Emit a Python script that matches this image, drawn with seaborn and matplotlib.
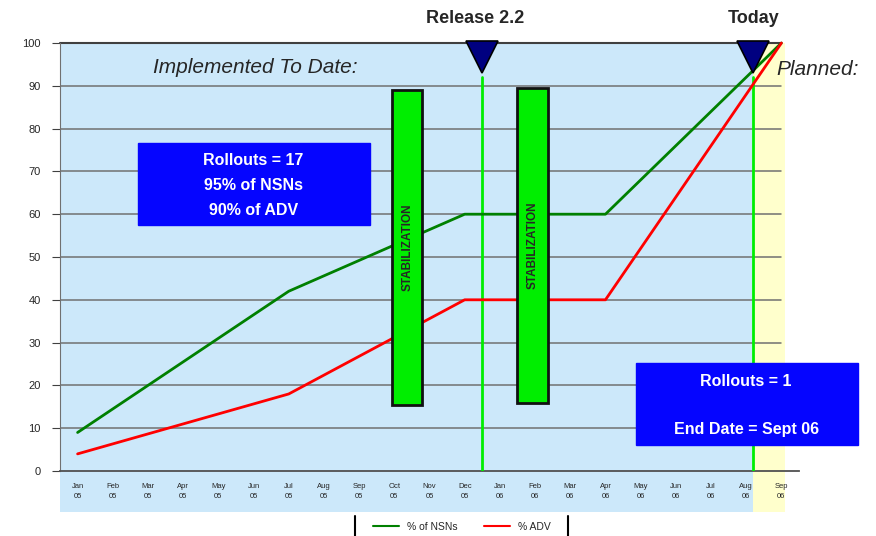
import matplotlib
matplotlib.use("Agg")
import matplotlib.pyplot as plt
from matplotlib.patches import Rectangle
from matplotlib.lines import Line2D
import seaborn as sns
import pandas as pd

# month categories on the x axis
months = ["Jan\n05", "Feb\n05", "Mar\n05", "Apr\n05", "May\n05", "Jun\n05", "Jul\n05",
          "Aug\n05", "Sep\n05", "Oct\n05", "Nov\n05", "Dec\n05", "Jan\n06", "Feb\n06",
          "Mar\n06", "Apr\n06", "May\n06", "Jun\n06", "Jul\n06", "Aug\n06", "Sep\n06"]

# series vertices (month, value)
point_months = ["Jan\n05", "Jul\n05", "Dec\n05", "Apr\n06", "Sep\n06"]
pct_nsns = [9, 42, 60, 60, 100]
pct_adv = [4, 18, 40, 40, 100]

y_ticks = [0, 10, 20, 30, 40, 50, 60, 70, 80, 90, 100]

release_pos = 11.5
today_pos = 19.2

sns.set_style("white")
plt.rcParams['font.family'] = ['Liberation Sans', 'DejaVu Sans']

idx = [months.index(m) for m in point_months]
df = pd.DataFrame({
    "x": idx * 2,
    "valor": pct_nsns + pct_adv,
    "serie": ["% of NSNs"] * len(idx) + ["% ADV"] * len(idx),
})

fig = plt.figure(figsize=(8.76, 5.36), dpi=100)
ax = fig.add_axes([60 / 876, 1 - 471 / 536, 739 / 876, 428 / 536])
ax.set_facecolor("white")

# fondos: implementado (azul) y planeado (amarillo)
ax.add_patch(Rectangle((-0.5, -9.6), today_pos + 0.5, 109.6, color="#cce8fa",
                       zorder=0, clip_on=False, lw=0))
ax.add_patch(Rectangle((today_pos, -9.6), 0.9, 109.6, color="#ffffcc",
                       zorder=0, clip_on=False, lw=0))

for y in y_ticks[1:-1]:
    ax.plot([-0.5, 20.0], [y, y], color="#707070", lw=1.1, zorder=1)
ax.plot([-0.5, 20.0], [100, 100], color="#404040", lw=1.5, zorder=1, clip_on=False)

sns.lineplot(data=df, x="x", y="valor", hue="serie",
             palette={"% of NSNs": "#008000", "% ADV": "#ff0000"},
             lw=2, legend=False, ax=ax, zorder=4, clip_on=False)

# barras de estabilizacion
for x0, x1, y0, y1 in [(8.93, 9.80, 15.4, 89.0), (12.48, 13.36, 15.9, 89.5)]:
    ax.add_patch(Rectangle((x0, y0), x1 - x0, y1 - y0, facecolor="#00ee00",
                           edgecolor="#111111", lw=2, zorder=5))
    ax.text((x0 + x1) / 2, (y0 + y1) / 2, "STABILIZATION", rotation=90,
            ha="center", va="center", fontsize=8.5, fontweight="bold", zorder=6)

# lineas de release y hoy
ax.plot([release_pos, release_pos], [0, 92], color="#00ee00", lw=2, zorder=3)
ax.plot([today_pos, today_pos], [0, 92], color="#00ee00", lw=2, zorder=3)
for xp, xl, label in [(release_pos, 11.3, "Release 2.2"), (today_pos, 19.2, "Today")]:
    ax.plot([xp], [96.8], marker="v", ms=23, color="#000080",
            markeredgecolor="black", mew=1.2, zorder=7, clip_on=False)
    ax.text(xl, 105.8, label, ha="center", va="center", fontsize=13,
            fontweight="bold")

ax.text(5.04, 94.2, "Implemented To Date:", ha="center", va="center",
        fontsize=15, fontstyle="italic", zorder=6)
ax.text(19.85, 93.7, "Planned:", ha="left", va="center",
        fontsize=15, fontstyle="italic", zorder=6, clip_on=False)

# cajas azules
ax.add_patch(Rectangle((1.72, 57.5), 6.59, 19.1, color="#0505ff", zorder=6))
for y, t in [(72.6, "Rollouts = 17"), (66.8, "95% of NSNs"), (60.9, "90% of ADV")]:
    ax.text(5.0, y, t, ha="center", va="center", color="white",
            fontsize=11.5, fontweight="bold", zorder=7)
ax.add_patch(Rectangle((15.86, 6.1), 6.31, 19.1, color="#0505ff", zorder=6,
                       clip_on=False))
for y, t in [(21.0, "Rollouts = 1"), (9.6, "End Date = Sept 06")]:
    ax.text(19.0, y, t, ha="center", va="center", color="white",
            fontsize=11.5, fontweight="bold", zorder=7, clip_on=False)

ax.set_xlim(-0.5, 20.5)
ax.set_ylim(0, 100)
ax.set_xticks(range(len(months)))
ax.set_xticklabels(months, fontsize=5.5, linespacing=1.6)
ax.set_xticks([i - 0.5 for i in range(len(months) + 1)], minor=True)
ax.tick_params(axis="x", which="major", length=0, pad=9)
ax.tick_params(axis="x", which="minor", length=3, color="#404040", direction="in")
ax.set_yticks(y_ticks)
ax.set_yticklabels([str(v) for v in y_ticks], fontsize=8)
ax.tick_params(axis="y", length=6, color="#404040", left=True, pad=8)
ax.set_xlabel("")
ax.set_ylabel("")
for s in ["top", "right"]:
    ax.spines[s].set_visible(False)
ax.spines["left"].set_color("#707070")
ax.spines["bottom"].set_color("#505050")
ax.spines["bottom"].set_linewidth(1.3)

# leyenda
handles = [Line2D([], [], color="#008000", lw=1.5), Line2D([], [], color="#ff0000", lw=1.5)]
fig.legend(handles, ["% of NSNs", "% ADV"], loc="center", bbox_to_anchor=(462 / 876, 1 - 527 / 536),
           ncol=2, frameon=False, fontsize=7.5, handlelength=2.5, columnspacing=2.5)
for xb in [355, 568]:
    fig.add_artist(Line2D([xb / 876, xb / 876], [0, 20 / 536], color="black", lw=1.5))

fig.savefig("out.png", dpi=100)
